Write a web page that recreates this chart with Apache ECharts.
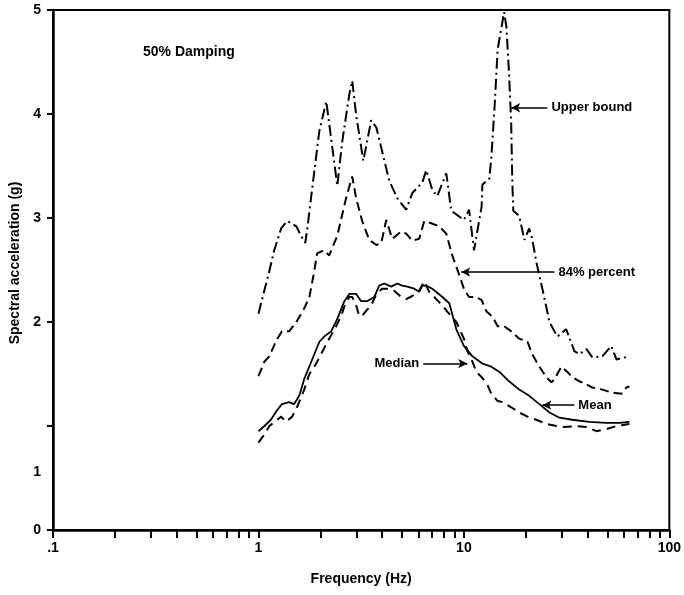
<!DOCTYPE html>
<html><head><meta charset="utf-8">
<script src="https://cdn.jsdelivr.net/npm/echarts@6/dist/echarts.min.js"></script>
<style>html,body{margin:0;padding:0;background:#fff}#c{width:684px;height:595px}</style>
</head><body><div id="c"></div>
<script>
// ---- data (frequency in Hz, spectral acceleration in g) ----
const ubFreq = [1.0,1.13,1.19,1.29,1.38,1.53,1.61,1.69,1.73,1.81,1.98,2.14,2.42,2.56,2.77,2.86,2.99,3.24,3.54,3.75,4.33,4.74,5.24,5.61,6.27,6.56,7.02,7.42,8.21,8.68,10.0,10.6,11.2,12.2,12.3,13.3,13.6,14.1,14.6,15.7,16.1,16.6,17.0,17.2,17.4,18.6,19.7,20.8,21.5,22.5,24.1,26.1,27.6,28.5,31.5,34.5,36.5,39.5,42.2,47.2,52.2,55.3,63.9];
const ubVal  = [2.08,2.49,2.68,2.90,2.97,2.92,2.83,2.76,2.90,3.22,3.84,4.12,3.31,3.74,4.19,4.32,3.99,3.55,3.94,3.87,3.36,3.19,3.08,3.24,3.34,3.46,3.27,3.21,3.43,3.07,2.98,3.08,2.69,3.11,3.32,3.38,3.58,4.06,4.62,4.98,4.84,4.38,3.90,3.36,3.07,3.02,2.79,2.90,2.80,2.58,2.32,2.00,1.91,1.86,1.93,1.72,1.69,1.74,1.66,1.67,1.77,1.64,1.67];

const p84Freq = [1.0,1.07,1.13,1.22,1.30,1.41,1.53,1.67,1.77,1.87,1.93,2.09,2.21,2.42,2.67,2.86,2.99,3.20,3.46,3.75,3.96,4.19,4.48,4.95,5.24,5.61,6.06,6.41,6.94,7.59,8.21,8.78,9.50,10.0,10.6,11.5,12.2,12.9,13.8,14.6,15.7,17.0,18.6,20.4,21.5,23.3,25.2,26.7,27.6,29.8,31.9,33.7,36.5,39.5,42.2,47.2,52.8,58.4,61.8,63.9];
const p84Val  = [1.48,1.62,1.67,1.82,1.91,1.91,2.00,2.13,2.24,2.49,2.66,2.69,2.64,2.83,3.19,3.40,3.19,2.97,2.79,2.74,2.76,2.98,2.80,2.87,2.85,2.78,2.80,2.97,2.95,2.92,2.85,2.64,2.45,2.32,2.24,2.24,2.21,2.10,2.05,1.96,1.96,1.91,1.84,1.81,1.69,1.57,1.47,1.42,1.45,1.57,1.52,1.47,1.43,1.40,1.37,1.35,1.32,1.31,1.37,1.38];

const meanFreq = [1.0,1.07,1.15,1.22,1.30,1.41,1.49,1.58,1.67,1.81,1.98,2.09,2.26,2.42,2.62,2.77,2.99,3.16,3.38,3.66,3.87,4.10,4.43,4.74,5.01,5.30,5.73,6.06,6.27,6.56,7.02,7.76,8.49,9.19,10.0,11.0,12.3,13.6,14.9,16.6,18.6,20.8,23.3,26.1,29.2,33.7,40.8,49.4,57.1,63.9];
const meanVal  = [0.95,1.00,1.06,1.14,1.21,1.23,1.21,1.29,1.45,1.62,1.81,1.86,1.91,2.03,2.20,2.27,2.27,2.20,2.20,2.24,2.35,2.37,2.34,2.37,2.35,2.34,2.32,2.29,2.35,2.35,2.32,2.25,2.18,1.93,1.77,1.67,1.60,1.57,1.52,1.43,1.35,1.29,1.21,1.13,1.08,1.06,1.04,1.03,1.03,1.04];

const medFreq = [1.0,1.07,1.13,1.29,1.36,1.46,1.54,1.67,1.77,1.91,2.04,2.21,2.39,2.53,2.62,2.77,2.86,2.99,3.09,3.20,3.35,3.54,3.75,4.00,4.33,4.58,4.95,5.24,5.61,6.06,6.41,6.78,7.34,7.85,8.30,9.19,10.0,10.4,10.9,11.5,12.2,13.0,13.6,14.6,15.4,17.0,18.6,20.4,22.5,25.2,28.2,30.8,35.3,39.5,44.2,49.4,55.3,63.9];
const medVal  = [0.84,0.92,1.00,1.09,1.04,1.09,1.18,1.35,1.50,1.60,1.71,1.84,1.96,2.06,2.15,2.24,2.24,2.16,2.06,2.06,2.11,2.16,2.27,2.32,2.32,2.30,2.24,2.22,2.25,2.30,2.39,2.29,2.22,2.16,2.10,2.00,1.84,1.72,1.64,1.52,1.47,1.40,1.31,1.24,1.23,1.18,1.13,1.09,1.06,1.02,1.00,0.99,1.00,0.99,0.95,0.97,1.00,1.02];

// ---- ticks and labels ----
const xTickValues  = [0.1,0.2,0.3,0.4,0.5,0.6,0.7,0.8,0.9,1,2,3,4,5,6,7,8,9,10,20,30,40,50,60,70,80,90,100];
const xLabelValues = [0.1,1,10,100];
const xLabelTexts  = ['.1','1','10','100'];
const yTickValues  = [0,1,2,3,4,5];
const yLabelValues = [0,0.56,2,3,4,5];
const yLabelTexts  = ['0','1','2','3','4','5'];

// ---- annotations: [label, startFreq, endFreq, value] ----
const notes = [
  ['Upper bound', 25.5, 17.0, 4.06],
  ['84% percent', 27.6, 9.71, 2.48],
  ['Median', 6.34, 10.39, 1.60],
  ['Mean', 34.5, 24.1, 1.20]
];

const zip = (a, b) => a.map((v, i) => [v, b[i]]);
const FONT = "'Liberation Sans', Arial, sans-serif";
const chart = echarts.init(document.getElementById('c'), null, {renderer: 'canvas'});

const txt = {fontFamily: FONT, fontWeight: 'bold', color: '#000'};

function lineSeries(name, data, type, width) {
  return {
    name, type: 'line', data, symbol: 'none', smooth: false,
    lineStyle: {color: '#000', width: width, type: type},
    silent: true, z: 3
  };
}

const annotSeries = {
  type: 'line', data: [], symbol: 'none', silent: true,
  markLine: {
    silent: true, animation: false,
    symbol: ['none', 'arrow'], symbolSize: [7, 9],
    lineStyle: {color: '#000', width: 1.5, type: 'solid'},
    label: {show: true, position: 'start', distance: 4, fontSize: 13, ...txt,
            formatter: p => p.name},
    data: notes.map(n => [
      {name: n[0], coord: [n[1], n[3]]},
      {coord: [n[2], n[3]]}
    ])
  }
};

chart.setOption({
  animation: false,
  backgroundColor: '#fff',
  title: {text: '50% Damping', left: 138, top: 40,
          textStyle: {fontSize: 14, ...txt}},
  grid: {left: 53, right: 14, top: 10, bottom: 65, show: true,
         borderColor: '#000', borderWidth: 2},
  xAxis: [{
    type: 'log', logBase: 10, min: 0.1, max: 100,
    name: 'Frequency (Hz)', nameLocation: 'middle', nameGap: 42,
    nameTextStyle: {fontSize: 14, ...txt},
    axisLine: {show: true, onZero: false, lineStyle: {color: '#000', width: 2.5}},
    axisTick: {show: true, inside: false, length: 8, customValues: xTickValues,
               lineStyle: {color: '#000', width: 2}},
    axisLabel: {show: true, margin: 11, fontSize: 14, ...txt, customValues: xLabelValues,
                formatter: v => xLabelTexts[xLabelValues.indexOf(v)] ?? ''},
    splitLine: {show: false}, minorTick: {show: false}
  }],
  yAxis: [{
    type: 'value', min: 0, max: 5,
    name: 'Spectral acceleration (g)', nameLocation: 'middle', nameGap: 31, nameRotate: 90,
    nameTextStyle: {fontSize: 14, ...txt, padding: [0, 0, 0, 14]},
    axisLine: {show: true, onZero: false, lineStyle: {color: '#000', width: 2.5}},
    axisTick: {show: true, inside: false, length: 6, customValues: yTickValues,
               lineStyle: {color: '#000', width: 2}},
    axisLabel: {show: true, margin: 12, fontSize: 14, ...txt, customValues: yLabelValues,
                formatter: v => yLabelTexts[yLabelValues.indexOf(v)] ?? ''},
    splitLine: {show: false}
  }],
  series: [
    lineSeries('Upper bound', zip(ubFreq, ubVal), [11, 4, 2, 4], 2),
    lineSeries('84% percent', zip(p84Freq, p84Val), [9, 5], 2),
    lineSeries('Median', zip(medFreq, medVal), [9, 6], 2),
    lineSeries('Mean', zip(meanFreq, meanVal), 'solid', 1.8),
    annotSeries
  ]
});
</script>
</body></html>
